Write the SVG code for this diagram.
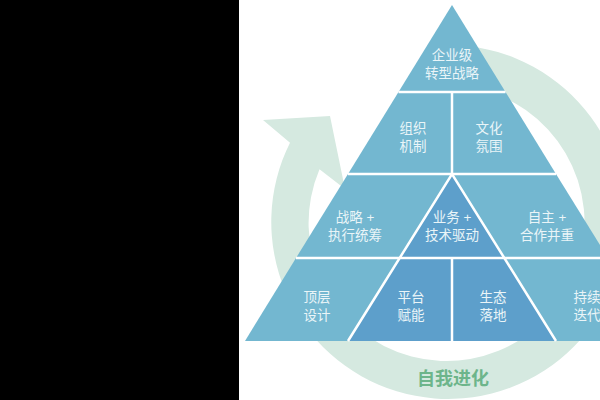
<svg xmlns="http://www.w3.org/2000/svg" width="600" height="400" viewBox="0 0 600 400">
<style>
.cell{fill:#73b7d0}
.dark{fill:#5d9fcb}
.t{font-family:"Liberation Sans","Noto Sans CJK SC",sans-serif;font-size:13.5px;fill:#eaf5f8;text-anchor:middle}
.div{stroke:#ffffff;stroke-width:2.5;fill:none}
</style>
<rect x="0" y="0" width="600" height="400" fill="#ffffff"/>
<rect x="0" y="0" width="239" height="400" fill="#000000"/>
<g id="cycle">
<path d="M440.8,45.1 A177,177 0 1 1 290,142.7 L263,120 L330,116 L345,189 L319.5,169.2 A138,138 0 1 0 442.2,85.1 Z" fill="#d5e9e0"/>
<text x="453" y="385" font-family="'Noto Sans CJK SC',sans-serif" font-size="18" font-weight="bold" fill="#6db58b" text-anchor="middle">自我进化</text>
</g>
<g id="top"><polygon class="cell" points="452,5 398.5,92 505.5,92"/><text class="t" x="452" y="60">企业级</text><text class="t" x="452" y="78">转型战略</text></g>
<g id="org"><polygon class="cell" points="398.5,92 452,92 452,174 348,174"/><text class="t" x="413" y="133">组织</text><text class="t" x="413" y="151">机制</text></g>
<g id="culture"><polygon class="cell" points="452,92 505.5,92 556,174 452,174"/><text class="t" x="489" y="133">文化</text><text class="t" x="489" y="151">氛围</text></g>
<g id="strategy"><polygon class="cell" points="348,174 452,174 400,258 296,258"/><text class="t" x="355" y="222">战略 +</text><text class="t" x="355" y="240">执行统筹</text></g>
<g id="business"><polygon class="dark" points="452,174 504,258 400,258"/><text class="t" x="452" y="222">业务 +</text><text class="t" x="452" y="240">技术驱动</text></g>
<g id="autonomy"><polygon class="cell" points="452,174 556,174 608,258 504,258"/><text class="t" x="547" y="222">自主 +</text><text class="t" x="547" y="240">合作并重</text></g>
<g id="design"><polygon class="cell" points="296,258 400,258 348,341 245,341"/><text class="t" x="317" y="302">顶层</text><text class="t" x="317" y="320">设计</text></g>
<g id="platform"><polygon class="dark" points="400,258 452,258 452,341 348,341"/><text class="t" x="411" y="302">平台</text><text class="t" x="411" y="320">赋能</text></g>
<g id="ecology"><polygon class="dark" points="452,258 504,258 556,341 452,341"/><text class="t" x="493" y="302">生态</text><text class="t" x="493" y="320">落地</text></g>
<g id="iterate"><polygon class="cell" points="504,258 608,258 659,341 556,341"/><text class="t" x="587" y="302">持续</text><text class="t" x="587" y="320">迭代</text></g>
<g id="dividers" class="div">
<line x1="398.5" y1="92" x2="505.5" y2="92"/>
<line x1="348" y1="174" x2="556" y2="174"/>
<line x1="296" y1="258" x2="608" y2="258"/>
<line x1="452" y1="92" x2="452" y2="174"/>
<line x1="452" y1="258" x2="452" y2="341"/>
<polyline points="348,341 452,174 556,341"/>
</g>
</svg>
